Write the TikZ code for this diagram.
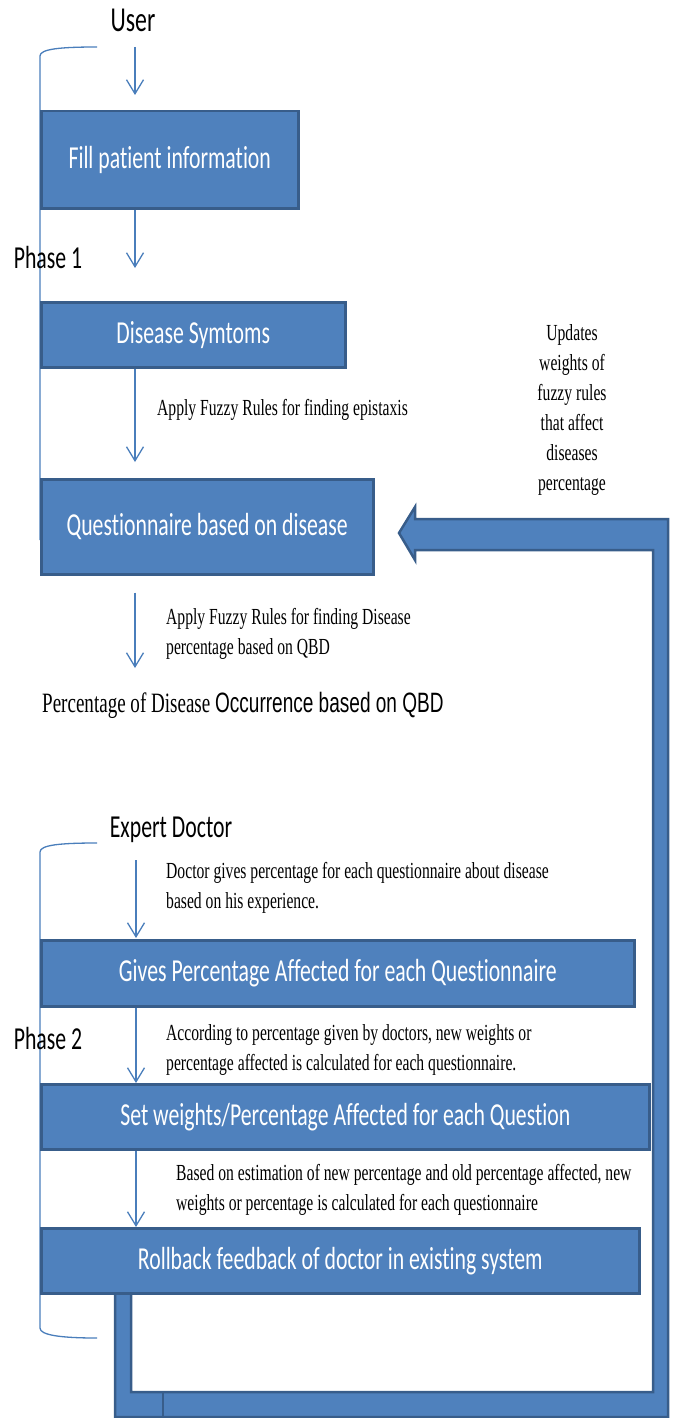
\documentclass[tikz,border=0pt]{standalone}
\usepackage{fontspec}
\usetikzlibrary{arrows.meta}
\newfontfamily\calf{Carlito}[FakeStretch=0.68, Ligatures=NoCommon]
\newfontfamily\serf{Liberation Serif}[FakeStretch=0.68]
\newfontfamily\sanf{Liberation Sans}[FakeStretch=0.68]
\definecolor{boxblue}{HTML}{4F81BD}
\definecolor{boxedge}{HTML}{385D8A}
\definecolor{linkblue}{HTML}{4A7EBB}
\begin{document}
\begin{tikzpicture}[x=1pt,y=-1pt,
  box/.style={draw=boxedge, fill=boxblue, line width=2.5pt, text=white,
    font=\calf\fontsize{32}{38}\selectfont, anchor=north west, inner sep=0pt},
  big/.style={font=\calf\fontsize{32}{38}\selectfont, inner sep=0pt},
  note/.style={font=\serf\fontsize{23}{30}\selectfont, inner sep=0pt, align=left, anchor=west},
  link/.style={draw=linkblue, line width=1.3pt,
    -{Straight Barb[length=14pt,width=17pt,line width=1.3pt]}},
  bracket/.style={draw=linkblue, line width=1.3pt},
  feedback/.style={fill=boxblue, draw=boxedge, line width=2.5pt, line join=miter},
]
\useasboundingbox (0,0) rectangle (675,1418);

% brackets
\draw[bracket] (97,47) .. controls (60,47) and (40,49) .. (40,56) -- (40,540);
\draw[bracket] (97,843) .. controls (60,843) and (40,845) .. (40,852) -- (40,1328)
  .. controls (40,1335) and (60,1338) .. (97,1338);

% feedback arrow
\draw[feedback] (115,1280) -- (115,1417) -- (668,1417) -- (668,519) -- (415,519)
  -- (415,507) -- (399,533) -- (415,560) -- (415,550) -- (653,550)
  -- (653,1392) -- (131,1392) -- (131,1280) -- cycle;
\draw[boxedge, line width=1.5pt] (131,1392) -- (163,1392) -- (163,1417);

% nodes
\node[big, font=\calf\fontsize{35}{40}\selectfont] (user) at (133,20) {User};
\node[box, minimum width=257, minimum height=97] (b1) at (40,110) {Fill patient information};
\node[big] (ph1) at (48,258) {Phase 1};
\node[box, minimum width=304, minimum height=65] (b2) at (40,301) {Disease Symtoms};
\node[note] (n3) at (157,410) {Apply Fuzzy Rules for finding epistaxis};
\node[box, minimum width=332, minimum height=95] (b3) at (40,478) {Questionnaire based on disease};
\node[font=\serf\fontsize{23}{30}\selectfont, align=center, inner sep=0pt] (upd) at (572,410)
  {Updates\\weights of\\fuzzy rules\\that affect\\diseases\\percentage};
\node[note] (n4) at (166,634) {Apply Fuzzy Rules for finding Disease\\percentage based on QBD};
\node[inner sep=0pt, anchor=west] (pct) at (42,705)
  {\serf\fontsize{28}{32}\selectfont Percentage of Disease \sanf Occurrence based on QBD};
\node[big] (doc) at (171,830) {Expert Doctor};
\node[note] (n5) at (166,888) {Doctor gives percentage for each questionnaire about disease\\based on his experience.};
\node[box, minimum width=593, minimum height=66] (b4) at (40,939) {Gives Percentage Affected for each Questionnaire};
\node[big] (ph2) at (48,1038) {Phase 2};
\node[note] (n6) at (166,1050) {According to percentage given by doctors, new weights or\\percentage affected is calculated for each questionnaire.};
\node[box, minimum width=608, minimum height=65] (b5) at (40,1083) {Set weights/Percentage Affected for each Question};
\node[note] (n7) at (176,1190) {Based on estimation of new percentage and old percentage affected, new\\weights or percentage is calculated for each questionnaire};
\node[box, minimum width=598, minimum height=65] (b6) at (40,1227) {Rollback feedback of doctor in existing system};

% arrows
\coordinate (ax) at (135,0);
\coordinate (a1s) at (135,47);
\coordinate (a4e) at (135,668);
\coordinate (a5s) at (136,860);
\draw[link, shorten >=15pt] (a1s) -- (b1.north -| ax);
\draw[link, shorten >=33pt] (b1.south -| ax) -- (b2.north -| ax);
\draw[link, shorten >=16pt] (b2.south -| ax) -- (b3.north -| ax);
\draw[link, shorten <=17pt] (b3.south -| ax) -- (a4e);
\draw[link, shorten >=1pt] (a5s) -- (b4.north -| a5s);
\draw[link] (b4.south -| a5s) -- (b5.north -| a5s);
\draw[link] (b5.south -| a5s) -- (b6.north -| a5s);
\end{tikzpicture}
\end{document}
